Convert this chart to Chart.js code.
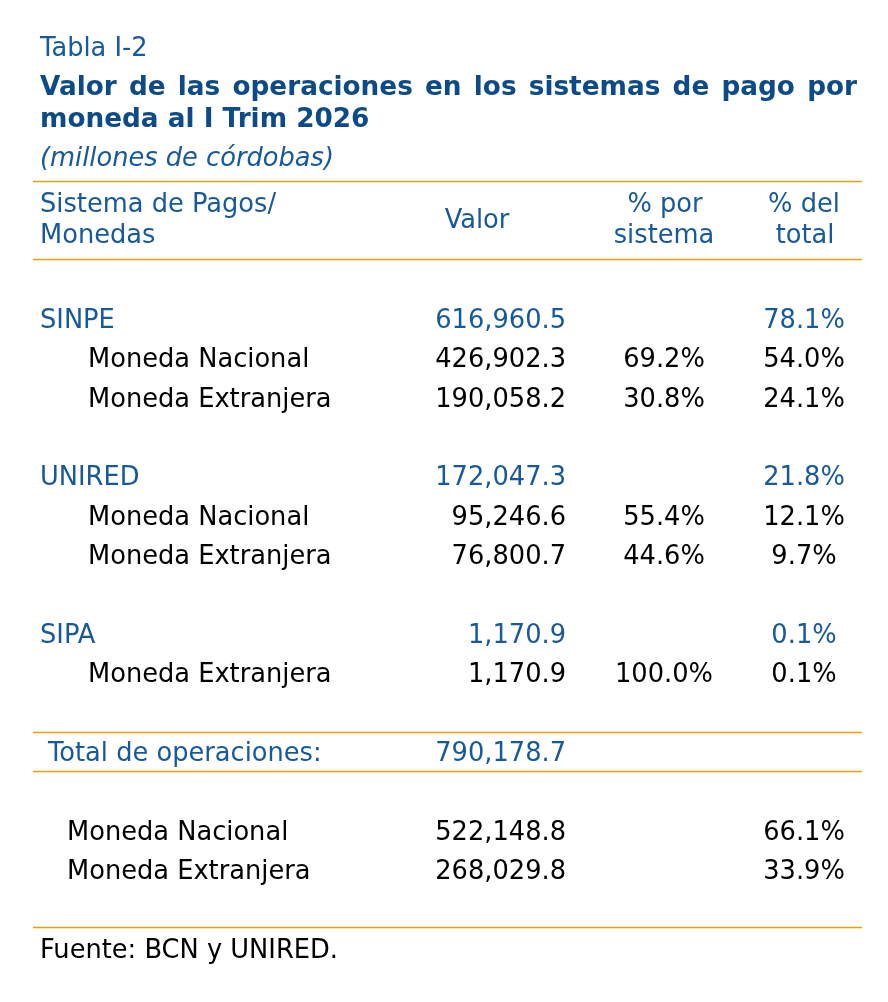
<!DOCTYPE html>
<html lang="es">
<head>
<meta charset="utf-8">
<title>Tabla I-2</title>
<script src="https://cdn.jsdelivr.net/npm/chart.js@4.4.1/dist/chart.umd.min.js"></script>
<style>
  html, body { margin: 0; padding: 0; background: #fff; }
  #tabla { display: block; }
</style>
</head>
<body>
<canvas id="tabla" width="888" height="1002"></canvas>
<script>
// ============================================================
//  Tabla I-2 — valor de las operaciones por sistema y moneda
// ============================================================
const FILAS      = ['SINPE', 'Moneda Nacional', 'Moneda Extranjera', '',
                    'UNIRED', 'Moneda Nacional', 'Moneda Extranjera', '',
                    'SIPA', 'Moneda Extranjera', '',
                    'Total de operaciones:', '',
                    'Moneda Nacional', 'Moneda Extranjera'];
const TIPO_FILA  = ['sistema', 'moneda', 'moneda', '',
                    'sistema', 'moneda', 'moneda', '',
                    'sistema', 'moneda', '',
                    'total', '',
                    'resumen', 'resumen'];
const VALOR      = [616960.5, 426902.3, 190058.2, null,
                    172047.3, 95246.6, 76800.7, null,
                    1170.9, 1170.9, null,
                    790178.7, null,
                    522148.8, 268029.8];
const PCT_SIST   = [null, 69.2, 30.8, null,
                    null, 55.4, 44.6, null,
                    null, 100.0, null,
                    null, null,
                    null, null];
const PCT_TOTAL  = [78.1, 54.0, 24.1, null,
                    21.8, 12.1, 9.7, null,
                    0.1, 0.1, null,
                    null, null,
                    66.1, 33.9];
const ENCABEZADO = ['Sistema de Pagos/', 'Monedas', 'Valor', '% por', 'sistema', '% del', 'total'];

// layout (x in px, y in row units of the y scale)
const COL_X   = { valor: 566, sist: 664, total: 804 };
const INDENT  = { sistema: 40, moneda: 88, total: 48, resumen: 67 };
const LINEAS  = [-3.5, -1.5, 10.5, 11.5, 15.47];
const AZUL    = '#17599a';
const AZUL_TI = '#0c4b88';
const ORO     = '#e1a50c';
const FUENTE  = '"DejaVu Sans", Verdana, sans-serif';
const SZ      = 25.7;

const fmtValor = v => v.toLocaleString('en-US', { minimumFractionDigits: 1, maximumFractionDigits: 1 });
const fmtPct   = v => v.toFixed(1) + '%';

function puntos(vals, x, fmt) {
  const out = [];
  vals.forEach((v, i) => {
    if (v === null || v === '') return;
    out.push({ x: x(i), y: i, txt: fmt(v), tipo: TIPO_FILA[i] });
  });
  return out;
}

const dsEtiquetas = puntos(FILAS, i => INDENT[TIPO_FILA[i]], v => v);
const dsValor     = puntos(VALOR, () => COL_X.valor, fmtValor);
const dsSist      = puntos(PCT_SIST, () => COL_X.sist, fmtPct);
const dsTotal     = puntos(PCT_TOTAL, () => COL_X.total, fmtPct);

const colorFila = tipo => (tipo === 'sistema' || tipo === 'total') ? AZUL : '#000';

const tablaPlugin = {
  id: 'tablaTexto',
  afterDatasetsDraw(chart) {
    const ctx = chart.ctx;
    const xs = chart.scales.x, ys = chart.scales.y;
    const base = r => ys.getPixelForValue(r) + 9.5;
    const x0 = xs.getPixelForValue(33), x1 = xs.getPixelForValue(862);
    ctx.save();
    ctx.textBaseline = 'alphabetic';

    // header block
    ctx.fillStyle = AZUL;
    ctx.textAlign = 'left';
    ctx.font = `${SZ}px ${FUENTE}`;
    ctx.fillText('Tabla I-2', 40, base(-6.91));

    ctx.fillStyle = AZUL_TI;
    ctx.font = `bold 26.3px ${FUENTE}`;
    const palabras = 'Valor de las operaciones en los sistemas de pago por'.split(' ');
    const anchos = palabras.map(p => ctx.measureText(p).width);
    const hueco = (857 - 40 - anchos.reduce((a, b) => a + b, 0)) / (palabras.length - 1);
    let px = 40;
    palabras.forEach((p, i) => { ctx.fillText(p, px, base(-5.92)); px += anchos[i] + hueco; });
    ctx.fillText('moneda al I Trim 2026', 40, base(-5.11));

    ctx.fillStyle = AZUL;
    ctx.font = `italic ${SZ}px ${FUENTE}`;
    ctx.fillText('(millones de córdobas)', 40, base(-4.12));

    ctx.font = `${SZ}px ${FUENTE}`;
    ctx.fillText(ENCABEZADO[0], 40, base(-2.95));
    ctx.fillText(ENCABEZADO[1], 40, base(-2.16));
    ctx.textAlign = 'center';
    ctx.fillText(ENCABEZADO[2], 477, base(-2.55));
    ctx.fillText(ENCABEZADO[3], 665, base(-2.95));
    ctx.fillText(ENCABEZADO[4], 664, base(-2.16));
    ctx.fillText(ENCABEZADO[5], 804, base(-2.95));
    ctx.fillText(ENCABEZADO[6], 805, base(-2.16));

    // rules
    ctx.strokeStyle = ORO;
    ctx.lineWidth = 1.6;
    LINEAS.forEach(r => {
      const y = Math.round(ys.getPixelForValue(r)) + 0.5;
      ctx.beginPath(); ctx.moveTo(x0, y); ctx.lineTo(x1, y); ctx.stroke();
    });

    // cells
    ctx.font = `${SZ}px ${FUENTE}`;
    const alin = ['left', 'right', 'center', 'center'];
    chart.data.datasets.forEach((ds, di) => {
      const meta = chart.getDatasetMeta(di);
      ctx.textAlign = alin[di];
      meta.data.forEach((pt, j) => {
        const d = ds.data[j];
        ctx.fillStyle = colorFila(d.tipo);
        ctx.fillText(d.txt, pt.x, pt.y + 9.5);
      });
    });

    ctx.fillStyle = '#000';
    ctx.textAlign = 'left';
    ctx.fillText('Fuente: BCN y UNIRED.', 40, base(16.0));
    ctx.restore();
  }
};

new Chart(document.getElementById('tabla'), {
  type: 'scatter',
  data: {
    datasets: [
      { label: 'Sistema de Pagos/Monedas', data: dsEtiquetas },
      { label: 'Valor', data: dsValor },
      { label: '% por sistema', data: dsSist },
      { label: '% del total', data: dsTotal }
    ].map(d => ({ ...d, pointRadius: 0, pointHoverRadius: 0, showLine: false }))
  },
  options: {
    responsive: false,
    animation: false,
    events: [],
    layout: { padding: 0 },
    plugins: { legend: { display: false }, tooltip: { enabled: false } },
    scales: {
      x: { type: 'linear', min: 0, max: 888, display: false },
      y: { type: 'linear', min: -8.092, max: 17.365, reverse: true, display: false }
    }
  },
  plugins: [tablaPlugin]
});
</script>
</body>
</html>
